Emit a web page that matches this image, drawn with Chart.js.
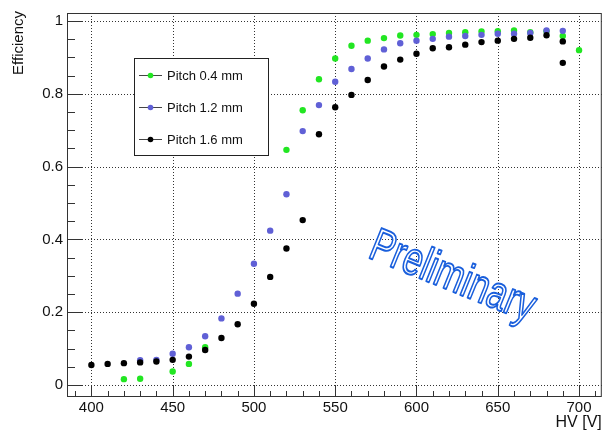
<!DOCTYPE html>
<html>
<head>
<meta charset="utf-8">
<script src="https://cdn.jsdelivr.net/npm/chart.js@4.4.1/dist/chart.umd.min.js"></script>
<style>
  html, body { margin: 0; padding: 0; background: #fff; }
  #wrap { width: 605px; height: 433px; }
</style>
</head>
<body>
<div id="wrap"><canvas id="c" width="605" height="433"></canvas></div>
<script>
// Efficiency vs. high voltage for three strip pitches
const hvPitch04 = [420, 430, 450, 460, 470, 520, 530, 540, 550, 560, 570, 580, 590, 600,
                   610, 620, 630, 640, 650, 660, 670, 680, 690, 700];
const effPitch04 = [0.016, 0.017, 0.037, 0.058, 0.104, 0.646, 0.755, 0.840, 0.897, 0.932, 0.946, 0.953, 0.960, 0.962,
                    0.964, 0.967, 0.969, 0.971, 0.972, 0.974, 0.969, 0.972, 0.959, 0.920];

const hvPitch12 = [430, 440, 450, 460, 470, 480, 490, 500, 510, 520, 530, 540, 550, 560, 570, 580,
                   590, 600, 610, 620, 630, 640, 650, 660, 670, 680, 690];
const effPitch12 = [0.068, 0.069, 0.086, 0.1035, 0.134, 0.183, 0.251, 0.333, 0.424, 0.524, 0.6975, 0.769, 0.833, 0.868, 0.897, 0.922,
                    0.939, 0.946, 0.951, 0.957, 0.959, 0.962, 0.965, 0.965, 0.967, 0.974, 0.973];

const hvPitch16 = [400, 410, 420, 430, 440, 450, 460, 470, 480, 490, 500, 510, 520, 530, 540, 550, 560, 570,
                   580, 590, 600, 610, 620, 630, 640, 650, 660, 670, 680, 690, 690];
const effPitch16 = [0.055, 0.058, 0.060, 0.062, 0.0645, 0.069, 0.078, 0.096, 0.129, 0.167, 0.223, 0.297, 0.375, 0.453, 0.689, 0.763, 0.797, 0.838,
                    0.875, 0.894, 0.910, 0.925, 0.928, 0.935, 0.942, 0.946, 0.951, 0.954, 0.961, 0.944, 0.885];

const seriesLabels = ['Pitch 0.4 mm', 'Pitch 1.2 mm', 'Pitch 1.6 mm'];
const xTicks = [400, 450, 500, 550, 600, 650, 700];
const yTicks = [0, 0.2, 0.4, 0.6, 0.8, 1];

const FONT = '"Liberation Sans", Arial, Helvetica, sans-serif';

function points(xs, ys) {
  return xs.map((x, i) => ({ x: x, y: ys[i] }));
}

function line(ctx, x1, y1, x2, y2) {
  ctx.beginPath();
  ctx.moveTo(x1, y1);
  ctx.lineTo(x2, y2);
  ctx.stroke();
}

// Frame, inner tick marks, dotted grid, legend box, watermark and axis titles
const framePlugin = {
  id: 'framePlugin',
  beforeDatasetsDraw(chart) {
    const { ctx, chartArea: a, scales } = chart;
    const xs = scales.x, ys = scales.y;
    ctx.save();
    ctx.strokeStyle = '#333';
    ctx.lineWidth = 1;
    ctx.setLineDash([1, 2]);
    xTicks.forEach(v => {
      const px = Math.round(xs.getPixelForValue(v)) + 0.5;
      line(ctx, px, a.top, px, a.bottom);
    });
    yTicks.forEach(v => {
      const py = Math.round(ys.getPixelForValue(v)) + 0.5;
      line(ctx, a.left, py, a.right, py);
    });
    ctx.restore();
  },
  afterDatasetsDraw(chart) {
    const { ctx, chartArea: a, scales } = chart;
    const xs = scales.x, ys = scales.y;
    ctx.save();
    ctx.setLineDash([]);
    ctx.strokeStyle = '#333';
    ctx.lineWidth = 1;

    // minor and major ticks along the bottom edge
    for (let v = 390; v <= 710; v += 10) {
      const px = Math.round(xs.getPixelForValue(v)) + 0.5;
      if (px < a.left || px > a.right) continue;
      const len = (v % 50 === 0) ? 12 : 6;
      line(ctx, px, a.bottom, px, a.bottom - len);
    }
    // minor and major ticks along the left edge
    for (let i = 0; i <= 20; i++) {
      const v = i * 0.05;
      const py = Math.round(ys.getPixelForValue(v)) + 0.5;
      const len = (i % 4 === 0) ? 16 : 8;
      line(ctx, a.left, py, a.left + len, py);
    }
    // frame
    ctx.strokeStyle = '#333';
    ctx.strokeRect(a.left + 0.5, a.top + 0.5, a.right - a.left - 1, a.bottom - a.top - 1);

    // legend
    const lx0 = 134.5, ly0 = 58.5, lw = 134, lh = 97;
    ctx.fillStyle = '#fff';
    ctx.fillRect(lx0, ly0, lw, lh);
    ctx.strokeStyle = '#222';
    ctx.strokeRect(lx0, ly0, lw, lh);
    const rows = [75.5, 107.5, 139.5];
    ctx.font = '13px ' + FONT;
    ctx.textBaseline = 'middle';
    ctx.textAlign = 'left';
    chart.data.datasets.forEach((ds, i) => {
      const ry = rows[i];
      ctx.strokeStyle = '#444';
      line(ctx, 139, ry, 162, ry);
      ctx.fillStyle = ds.backgroundColor;
      ctx.beginPath();
      ctx.arc(150.5, ry, 2.8, 0, Math.PI * 2);
      ctx.fill();
      ctx.fillStyle = '#111';
      ctx.fillText(ds.label, 167, ry + 1);
    });

    // watermark
    ctx.save();
    ctx.translate(xs.getPixelForValue(619), ys.getPixelForValue(0.262));
    ctx.rotate(22 * Math.PI / 180);
    ctx.scale(0.74, 1);
    ctx.font = '47px ' + FONT;
    ctx.textAlign = 'center';
    ctx.textBaseline = 'alphabetic';
    ctx.fillStyle = '#fff';
    ctx.fillText('Preliminary', 0, 0);
    ctx.strokeStyle = '#1a5fdc';
    ctx.lineWidth = 2;
    ctx.lineJoin = 'round';
    ctx.strokeText('Preliminary', 0, 0);
    ctx.restore();

    // axis titles
    ctx.fillStyle = '#111';
    ctx.font = '16px ' + FONT;
    ctx.textAlign = 'right';
    ctx.textBaseline = 'alphabetic';
    ctx.fillText('HV [V]', a.right, 427);

    ctx.save();
    ctx.translate(19, 11);
    ctx.rotate(-Math.PI / 2);
    ctx.font = '15px ' + FONT;
    ctx.textAlign = 'right';
    ctx.textBaseline = 'middle';
    ctx.fillText('Efficiency', 0, 0);
    ctx.restore();

    ctx.restore();
  }
};

const colors = ['#22e622', '#6060d6', '#000000'];

new Chart(document.getElementById('c'), {
  type: 'scatter',
  data: {
    datasets: [
      { label: seriesLabels[0], data: points(hvPitch04, effPitch04), order: 2 },
      { label: seriesLabels[1], data: points(hvPitch12, effPitch12), order: 1 },
      { label: seriesLabels[2], data: points(hvPitch16, effPitch16), order: 0 }
    ].map((d, i) => Object.assign(d, {
      backgroundColor: colors[i],
      borderColor: colors[i],
      borderWidth: 0,
      pointRadius: 3.2,
      pointHoverRadius: 3.2,
      showLine: false
    }))
  },
  options: {
    responsive: false,
    devicePixelRatio: 1,
    animation: false,
    layout: { padding: { top: 10, right: 1, left: 0, bottom: 0 } },
    plugins: { legend: { display: false }, tooltip: { enabled: false } },
    scales: {
      x: {
        type: 'linear',
        min: 385,
        max: 714,
        afterBuildTicks: s => { s.ticks = xTicks.map(v => ({ value: v })); },
        afterFit: s => { s.height = 36; },
        grid: { display: false, drawTicks: false, tickLength: 0 },
        border: { display: false },
        ticks: {
          padding: 2,
          color: '#111',
          font: { family: FONT, size: 15 },
          maxRotation: 0,
          callback: v => String(v)
        }
      },
      y: {
        type: 'linear',
        min: -0.033,
        max: 1.022,
        afterBuildTicks: s => { s.ticks = yTicks.map(v => ({ value: v })); },
        afterFit: s => { s.width = 67; },
        grid: { display: false, drawTicks: false, tickLength: 0 },
        border: { display: false },
        ticks: {
          padding: 4,
          color: '#111',
          font: { family: FONT, size: 15 },
          callback: v => String(+v.toFixed(1))
        }
      }
    }
  },
  plugins: [framePlugin]
});
</script>
</body>
</html>
